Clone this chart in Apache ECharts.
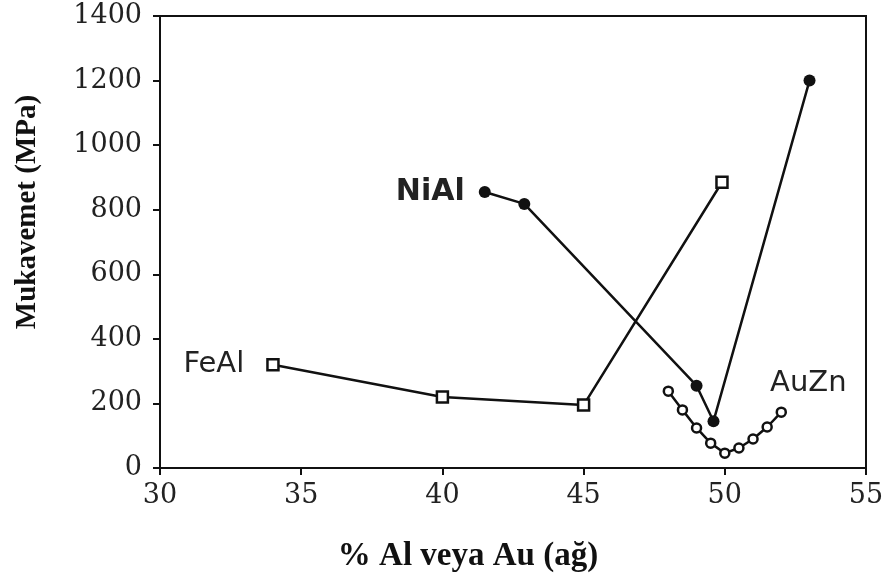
<!DOCTYPE html>
<html>
<head>
<meta charset="utf-8">
<style>
  html, body { margin: 0; padding: 0; background: #fff; }
  #chart { width: 890px; height: 582px; }
</style>
<script src="https://cdn.jsdelivr.net/npm/echarts@6/dist/echarts.min.js"></script>
</head>
<body>
<div id="chart"></div>
<script>
// Strength of B2 intermetallics vs. composition
const feAlX = [34, 40, 45, 49.9];
const feAlY = [320, 220, 195, 885];

const niAlX = [41.5, 42.9, 49, 49.6, 53];
const niAlY = [855, 818, 255, 145, 1200];

const auZnX = [48, 48.5, 49, 49.5, 50, 50.5, 51, 51.5, 52];
const auZnY = [238, 180, 124, 77, 46, 62, 90, 127, 173];

const xTicks = { min: 30, max: 55, step: 5 };
const yTicks = { min: 0, max: 1400, step: 200 };

const pairs = (xs, ys) => xs.map((x, i) => [x, ys[i]]);

const serifFont = '"DejaVu Serif", "Liberation Serif", serif';
const tagFont = '"DejaVu Sans", "Liberation Sans", sans-serif';

const chart = echarts.init(document.getElementById('chart'));

const lineStyle = { color: '#111', width: 2.5 };

chart.setOption({
  backgroundColor: '#fff',
  animation: false,
  grid: {
    left: 160, right: 24, top: 16, bottom: 114,
    show: true, borderColor: '#111', borderWidth: 2
  },
  xAxis: {
    type: 'value',
    min: xTicks.min, max: xTicks.max, interval: xTicks.step,
    name: '% Al veya Au (ağ)',
    nameLocation: 'middle',
    nameGap: 72,
    nameTextStyle: {
      fontFamily: '"Liberation Serif", serif', fontWeight: 'bold',
      fontSize: 33, color: '#111', padding: [0, 90, 0, 0]
    },
    axisLine: { lineStyle: { color: '#111', width: 2 } },
    axisTick: { show: true, inside: false, length: 7, lineStyle: { color: '#111', width: 2 } },
    axisLabel: { fontFamily: serifFont, fontSize: 27, color: '#222', margin: 14 },
    splitLine: { show: false }
  },
  yAxis: {
    type: 'value',
    min: yTicks.min, max: yTicks.max, interval: yTicks.step,
    name: 'Mukavemet (MPa)',
    nameLocation: 'middle',
    nameGap: 118,
    nameTextStyle: {
      fontFamily: '"Liberation Serif", serif', fontWeight: 'bold',
      fontSize: 29, color: '#111', padding: [0, 0, 0, 60]
    },
    axisLine: { lineStyle: { color: '#111', width: 2 } },
    axisTick: { show: true, inside: false, length: 7, lineStyle: { color: '#111', width: 2 } },
    axisLabel: {
      fontFamily: serifFont, fontSize: 27, color: '#222', margin: 18,
      formatter: v => String(v)
    },
    splitLine: { show: false }
  },
  series: [
    {
      name: 'FeAl',
      type: 'line',
      data: pairs(feAlX, feAlY).map((p, i) => i === 0 ? {
        value: p,
        label: {
          show: true, formatter: 'FeAl', position: 'left', distance: 22,
          fontFamily: tagFont, fontSize: 29, color: '#222'
        }
      } : p),
      symbol: 'rect', symbolSize: 11,
      itemStyle: { color: '#fff', borderColor: '#111', borderWidth: 2.5 },
      lineStyle: lineStyle
    },
    {
      name: 'NiAl',
      type: 'line',
      data: pairs(niAlX, niAlY).map((p, i) => i === 0 ? {
        value: p,
        label: {
          show: true, formatter: 'NiAl', position: 'left', distance: 14,
          fontFamily: tagFont, fontWeight: 'bold', fontSize: 30, color: '#222'
        }
      } : p),
      symbol: 'circle', symbolSize: 12,
      itemStyle: { color: '#111' },
      lineStyle: lineStyle
    },
    {
      name: 'AuZn',
      type: 'line',
      data: pairs(auZnX, auZnY).map((p, i) => i === auZnX.length - 1 ? {
        value: p,
        label: {
          show: true, formatter: 'AuZn', position: 'top', distance: 8,
          offset: [27, 0],
          fontFamily: tagFont, fontSize: 29, color: '#222'
        }
      } : p),
      symbol: 'circle', symbolSize: 9,
      itemStyle: { color: '#fff', borderColor: '#111', borderWidth: 2.5 },
      lineStyle: lineStyle
    }
  ]
});
</script>
</body>
</html>
